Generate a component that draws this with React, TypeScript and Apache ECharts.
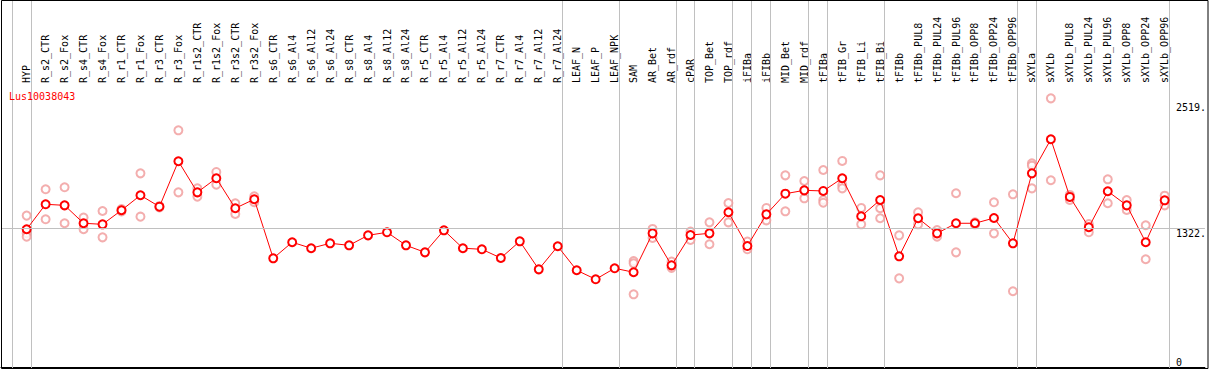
import React, { useEffect, useRef } from "react";
import * as echarts from "echarts";

const categories = [
  "HYP", "R_s2_CTR", "R_s2_Fox", "R_s4_CTR", "R_s4_Fox", "R_r1_CTR", "R_r1_Fox", "R_r3_CTR", "R_r3_Fox",
  "R_r1s2_CTR", "R_r1s2_Fox", "R_r3s2_CTR", "R_r3s2_Fox", "R_s6_CTR", "R_s6_Al4", "R_s6_Al12", "R_s6_Al24",
  "R_s8_CTR", "R_s8_Al4", "R_s8_Al12", "R_s8_Al24", "R_r5_CTR", "R_r5_Al4", "R_r5_Al12", "R_r5_Al24",
  "R_r7_CTR", "R_r7_Al4", "R_r7_Al12", "R_r7_Al24", "LEAF_N", "LEAF_P", "LEAF_NPK", "SAM", "AR_Bet", "AR_rdf",
  "cPAR", "TOP_Bet", "TOP_rdf", "iFIBa", "iFIBb", "MID_Bet", "MID_rdf", "tFIBa", "tFIB_Gr", "tFIB_Li", "tFIB_Bi",
  "tFIBb", "tFIBb_PUL8", "tFIBb_PUL24", "tFIBb_PUL96", "tFIBb_OPP8", "tFIBb_OPP24", "tFIBb_OPP96", "sXYLa",
  "sXYLb", "sXYLb_PUL8", "sXYLb_PUL24", "sXYLb_PUL96", "sXYLb_OPP8", "sXYLb_OPP24", "sXYLb_OPP96",
];

const means = [
  1313, 1551, 1541, 1370, 1360, 1494, 1637, 1528, 1961, 1665, 1799, 1513, 1599,
  1036, 1189, 1132, 1179, 1160, 1255, 1284, 1160, 1093, 1303, 1132, 1122, 1039, 1198, 931, 1151,
  922, 836, 941, 903, 1274, 969, 1258, 1274, 1475, 1153, 1455, 1652, 1684, 1678, 1799, 1437, 1592,
  1055, 1418, 1274, 1370, 1370, 1420, 1179, 1846, 2171, 1621, 1332, 1675, 1541, 1189, 1589,
];

const N = null;
const rep1 = [
  1443, 1694, 1713, 1424, 1487, 1505, 1846, 1535, 2256, 1703, 1859, 1561, 1627,
  N, N, N, N, N, N, N, N, N, N, N, N, N, N, N, N,
  N, N, N, 1010, 1316, 1005, 1290, 1379, 1563, 1195, 1516, 1827, 1773, 1878, 1964, 1516, 1827,
  1255, 1475, 1306, 1656, 1380, 1570, 1646, 1942, 2561, 1640, 1363, 1789, 1592, 1351, 1633,
];
const rep2 = [
  1275, 1408, 1370, 1313, 1236, 1483, 1433, 1521, 1665, 1624, 1738, 1459, 1571,
  N, N, N, N, N, N, N, N, N, N, N, N, N, N, N, N,
  N, N, N, 988, 1230, 945, 1211, 1170, 1379, 1122, 1398, 1484, 1608, 1592, 1735, 1360, 1513,
  845, 1360, 1242, 1093, 1360, 1274, 722, 1919, 1780, 1592, 1284, 1561, 1497, 1027, 1541,
];
const rep3 = [
  1242, N, N, N, N, N, N, N, N, N, N, N, N,
  N, N, N, N, N, N, N, N, N, N, N, N, N, N, N, N,
  N, N, N, 693, N, N, N, N, N, N, N, N, N, 1566, 1703, N, 1418,
  N, N, N, N, N, N, N, 1703, N, N, N, N, N, N, N,
];

// indices of the last category of each group (separator drawn after it)
const groupEnds = [-1, 0, 28, 31, 34, 35, 37, 38, 39, 41, 42, 45, 52, 53, 60];
const yLabels = [0, 1322, 2519];
const refLine = 1322;
const title = "Lus10038043";

const MONO = "'DejaVu Sans Mono', 'Liberation Mono', monospace";

export default function App() {
  const ref = useRef<HTMLDivElement>(null);
  useEffect(() => {
    if (!ref.current) return;
    const chart = echarts.init(ref.current, undefined, { renderer: "svg" });
    const repData: [number, number][] = [];
    [rep1, rep2, rep3].forEach((arr) =>
      arr.forEach((v, i) => {
        if (v !== null) repData.push([i, v as number]);
      })
    );
    chart.setOption({
      animation: false,
      backgroundColor: "#ffffff",
      title: {
        text: title,
        left: 9,
        top: 91,
        padding: 0,
        textStyle: { color: "#ff0000", fontSize: 10, fontWeight: "normal", fontFamily: MONO },
      },
      grid: { left: 1, right: 2, top: 85, bottom: 3 },
      xAxis: {
        type: "value",
        position: "top",
        min: -1.3526,
        max: 62.121,
        axisLine: { show: true, lineStyle: { color: "#000", width: 1 } },
        axisTick: { show: false },
        splitLine: { show: false },
        axisLabel: {
          customValues: categories.map((_, i) => i),
          formatter: (v: number) => categories[Math.round(v)] ?? "",
          rotate: 90,
          margin: 2,
          fontSize: 10,
          fontFamily: MONO,
          color: "#000",
        },
      },
      yAxis: {
        type: "value",
        position: "right",
        min: 0,
        max: 2688,
        axisLine: { show: false },
        axisTick: { show: false },
        splitLine: { show: false },
        axisLabel: {
          customValues: yLabels,
          formatter: (v: number) => (v === 0 ? "0" : v + "."),
          margin: -29,
          align: "left",
          verticalAlign: "top",
          verticalAlignMinLabel: "bottom",
          fontSize: 10,
          fontFamily: MONO,
          color: "#000",
        },
      },
      graphic: [
        {
          type: "rect",
          shape: { x: 1.5, y: 0.5, width: 1206.5, height: 368 },
          style: { fill: "none", stroke: "#000", lineWidth: 1 },
          silent: true,
          z: 100,
        },
      ],
      series: [
        {
          type: "custom",
          silent: true,
          clip: false,
          z: 1,
          data: groupEnds.map((g) => [g, 0]),
          renderItem: (params: any, api: any) => {
            const x = Math.round(api.coord([api.value(0) + 0.21, 0])[0]) + 0.5;
            const cs = params.coordSys;
            return {
              type: "line",
              shape: { x1: x, y1: 0, x2: x, y2: cs.y + cs.height + 2 },
              style: { stroke: "#c0c0c0", lineWidth: 1 },
            };
          },
        },
        {
          type: "scatter",
          silent: true,
          z: 3,
          symbol: "emptyCircle",
          symbolSize: 8,
          itemStyle: { color: "#f09a9a", borderColor: "#f09a9a", borderWidth: 1 },
          data: repData,
        },
        {
          type: "line",
          silent: true,
          z: 4,
          symbol: "emptyCircle",
          symbolSize: 8,
          lineStyle: { color: "#ff0000", width: 1 },
          itemStyle: { color: "#ff0000", borderColor: "#ff0000", borderWidth: 1.3 },
          data: means.map((v, i) => [i, v]),
          markLine: {
            silent: true,
            symbol: "none",
            label: { show: false },
            lineStyle: { color: "#c0c0c0", type: "solid", width: 1 },
            data: [{ yAxis: refLine }],
          },
        },
      ],
    });
    return () => chart.dispose();
  }, []);
  return (
    <div
      ref={ref}
      style={{ position: "absolute", left: 0, top: 0, width: 1209, height: 370 }}
    />
  );
}
